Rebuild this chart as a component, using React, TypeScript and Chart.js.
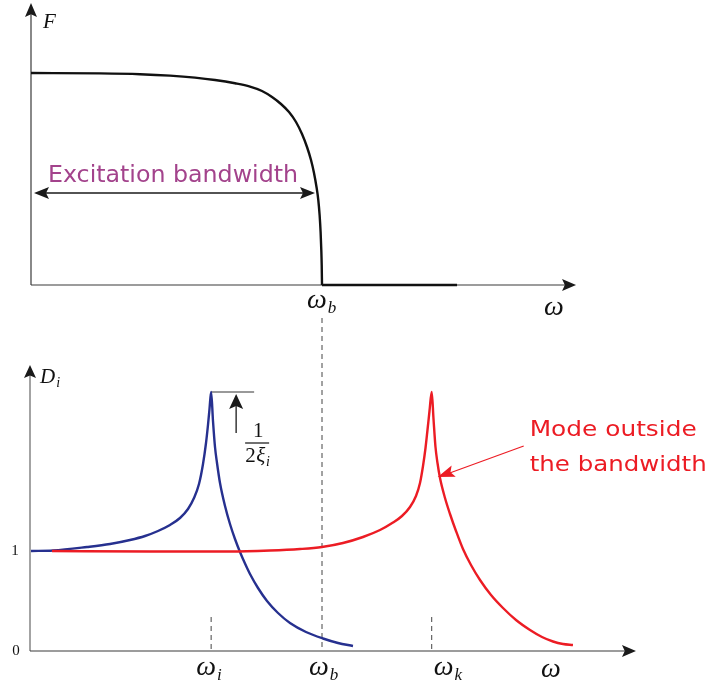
import React, { useEffect, useRef } from "react";
import { Chart, registerables } from "chart.js";
Chart.register(...registerables);

// ---- data (ω normalised so that ω_b = 1) ----
const OMEGA_B = 1.0;
const OMEGA_I = 0.619;
const OMEGA_K = 1.377;
const PEAK = 2.59;

const forceOmega = [0, 0.2371, 0.3746, 0.4777, 0.5636, 0.6323, 0.701, 0.7526, 0.7938, 0.8282, 0.8591, 0.8866, 0.9107, 0.9313, 0.9485, 0.9622, 0.9725, 0.9811, 0.9873, 0.9918, 0.9952, 0.9976, 0.999, 1.0];
const forceValues = [1.0, 0.9981, 0.9943, 0.9877, 0.9783, 0.967, 0.9514, 0.9358, 0.9151, 0.8868, 0.8538, 0.816, 0.7689, 0.7123, 0.6509, 0.5896, 0.5283, 0.4623, 0.4009, 0.3302, 0.25, 0.1651, 0.0943, 0.0];
const tailOmega = [1.0, 1.464];
const tailValues = [0, 0];

const blueOmega = [0, 0.0756, 0.1924, 0.2715, 0.3402, 0.3918, 0.4364, 0.4777, 0.512, 0.5395, 0.5601, 0.5773, 0.5911, 0.6014, 0.6082, 0.6134, 0.619, 0.6254, 0.6323, 0.6392, 0.6495, 0.6667, 0.6838, 0.701, 0.7182, 0.7354, 0.7526, 0.7801, 0.811, 0.8488, 0.89, 0.945, 1.0034, 1.055, 1.1065];
const blueValues = [1.0, 1.005, 1.04, 1.07, 1.11, 1.15, 1.2, 1.26, 1.33, 1.42, 1.53, 1.67, 1.87, 2.08, 2.26, 2.42, 2.59, 2.3, 2.04, 1.88, 1.68, 1.45, 1.27, 1.12, 0.99, 0.875, 0.77, 0.63, 0.5, 0.38, 0.28, 0.19, 0.125, 0.08, 0.05];

const redOmega = [0.0722, 0.4089, 0.6838, 0.8213, 0.9244, 1.0, 1.0722, 1.1409, 1.1993, 1.244, 1.2749, 1.3024, 1.323, 1.3368, 1.3471, 1.3557, 1.3625, 1.3694, 1.377, 1.3832, 1.39, 1.3969, 1.4055, 1.4227, 1.4399, 1.4605, 1.4845, 1.512, 1.543, 1.5808, 1.622, 1.6667, 1.7148, 1.756, 1.7938, 1.8282, 1.8625];
const redValues = [1.0, 0.995, 0.995, 1.005, 1.02, 1.04, 1.08, 1.14, 1.21, 1.285, 1.35, 1.44, 1.55, 1.68, 1.85, 2.03, 2.21, 2.4, 2.59, 2.32, 2.04, 1.88, 1.73, 1.53, 1.37, 1.2, 1.02, 0.86, 0.71, 0.56, 0.43, 0.31, 0.21, 0.14, 0.095, 0.07, 0.06];

const F_AXIS_TOP = 1.33;
const W_AXIS_END_TOP = 1.873;
const D_AXIS_TOP = 2.86;
const W_AXIS_END_BOTTOM = 2.079;

const BLUE = "#26308f";
const RED = "#ec1c24";
const PURPLE = "#a3438c";
const AXIS = "#3a3a3a";

const W = 714;
const H = 688;

const pts = (xs: number[], ys: number[]) => xs.map((x, i) => ({ x, y: ys[i] }));

function arrowHead(ctx: CanvasRenderingContext2D, tx: number, ty: number, angle: number, len: number, half: number, color: string) {
  const c = Math.cos(angle), s = Math.sin(angle);
  const bx = tx - c * len, by = ty - s * len;
  const ix = tx - c * len * 0.8, iy = ty - s * len * 0.8;
  ctx.save();
  ctx.fillStyle = color;
  ctx.beginPath();
  ctx.moveTo(tx, ty);
  ctx.lineTo(bx - s * half, by + c * half);
  ctx.lineTo(ix, iy);
  ctx.lineTo(bx + s * half, by - c * half);
  ctx.closePath();
  ctx.fill();
  ctx.restore();
}

function line(ctx: CanvasRenderingContext2D, x1: number, y1: number, x2: number, y2: number, color: string, width = 1, dash: number[] = []) {
  ctx.save();
  ctx.strokeStyle = color;
  ctx.lineWidth = width;
  ctx.setLineDash(dash);
  ctx.beginPath();
  ctx.moveTo(x1, y1);
  ctx.lineTo(x2, y2);
  ctx.stroke();
  ctx.restore();
}

function mathLabel(ctx: CanvasRenderingContext2D, main: string, sub: string, x: number, y: number, size: number, subSize: number) {
  ctx.save();
  ctx.fillStyle = "#111";
  ctx.textBaseline = "alphabetic";
  ctx.textAlign = "left";
  ctx.font = `italic ${size}px "Liberation Serif", "DejaVu Serif", serif`;
  ctx.fillText(main, x, y);
  const w = ctx.measureText(main).width;
  if (sub) {
    ctx.font = `italic ${subSize}px "Liberation Serif", "DejaVu Serif", serif`;
    ctx.fillText(sub, x + w + 1, y + size * 0.18);
  }
  ctx.restore();
}

function fitText(ctx: CanvasRenderingContext2D, text: string, x: number, y: number, width: number, size: number, color: string) {
  ctx.save();
  ctx.font = `${size}px "Comic Sans MS", "DejaVu Sans", sans-serif`;
  ctx.fillStyle = color;
  ctx.textBaseline = "alphabetic";
  ctx.textAlign = "left";
  const m = ctx.measureText(text).width;
  ctx.translate(x, y);
  ctx.scale(width / m, 1);
  ctx.fillText(text, 0, 0);
  ctx.restore();
}

const diagramPlugin = {
  id: "diagram",
  beforeDatasetsDraw(chart: any) {
    const ctx: CanvasRenderingContext2D = chart.ctx;
    const sx = chart.scales.x, sf = chart.scales.yF, sd = chart.scales.yD;
    const ox = sx.getPixelForValue(0);
    const oyF = sf.getPixelForValue(0);
    const oyD = sd.getPixelForValue(0);

    // top axes
    const topF = sf.getPixelForValue(F_AXIS_TOP);
    line(ctx, ox, oyF, ox, topF + 8, AXIS, 1.2);
    arrowHead(ctx, ox, topF, -Math.PI / 2, 14, 6, "#1a1a1a");
    const endTop = sx.getPixelForValue(W_AXIS_END_TOP);
    line(ctx, ox, oyF, endTop - 8, oyF, AXIS, 1.2);
    arrowHead(ctx, endTop, oyF, 0, 14, 6, "#1a1a1a");

    // bottom axes
    const oxD = ox - 1;
    const topD = sd.getPixelForValue(D_AXIS_TOP);
    line(ctx, oxD, oyD, oxD, topD + 8, "#666", 1.2);
    arrowHead(ctx, oxD, topD, -Math.PI / 2, 13, 6, "#1a1a1a");
    const endBot = sx.getPixelForValue(W_AXIS_END_BOTTOM);
    line(ctx, oxD, oyD, endBot - 8, oyD, AXIS, 1.2);
    arrowHead(ctx, endBot, oyD, 0, 14, 6, "#1a1a1a");

    // dashed lines
    const xb = sx.getPixelForValue(OMEGA_B);
    line(ctx, xb, oyF + 33, xb, oyD, "#444", 1, [5, 4]);
    const xi = sx.getPixelForValue(OMEGA_I);
    const xk = sx.getPixelForValue(OMEGA_K);
    line(ctx, xi, oyD - 34, xi, oyD, "#444", 1, [5, 4]);
    line(ctx, xk, oyD - 34, xk, oyD, "#444", 1, [5, 4]);

    // peak reference line
    const yp = sd.getPixelForValue(PEAK);
    line(ctx, xi, yp, xi + 43, yp, "#777", 1.5);
  },
  afterDatasetsDraw(chart: any) {
    const ctx: CanvasRenderingContext2D = chart.ctx;
    const sx = chart.scales.x, sf = chart.scales.yF, sd = chart.scales.yD;
    const ox = sx.getPixelForValue(0);
    const oyF = sf.getPixelForValue(0);
    const oyD = sd.getPixelForValue(0);
    const xb = sx.getPixelForValue(OMEGA_B);
    const xi = sx.getPixelForValue(OMEGA_I);
    const xk = sx.getPixelForValue(OMEGA_K);

    // top labels
    mathLabel(ctx, "F", "", ox + 12, sf.getPixelForValue(F_AXIS_TOP) + 25, 21, 14);
    mathLabel(ctx, "ω", "b", xb - 15, oyF + 23, 28, 17);
    mathLabel(ctx, "ω", "", sx.getPixelForValue(W_AXIS_END_TOP) - 32, oyF + 30, 28, 17);

    // excitation bandwidth
    const yArr = sf.getPixelForValue(0.434);
    line(ctx, ox + 12, yArr, xb - 18, yArr, "#1a1a1a", 1.3);
    arrowHead(ctx, ox + 3, yArr, Math.PI, 15, 6, "#1a1a1a");
    arrowHead(ctx, xb - 7, yArr, 0, 15, 6, "#1a1a1a");
    fitText(ctx, "Excitation bandwidth", ox + 17, yArr - 11, 250, 23, PURPLE);

    // bottom labels
    mathLabel(ctx, "D", "i", ox + 9, sd.getPixelForValue(D_AXIS_TOP) + 18, 21, 14);
    ctx.save();
    ctx.fillStyle = "#111";
    ctx.font = `15px "Liberation Serif", "DejaVu Serif", serif`;
    ctx.textAlign = "center";
    ctx.textBaseline = "middle";
    ctx.fillText("1", ox - 16, sd.getPixelForValue(1));
    ctx.fillText("0", ox - 15, oyD);
    ctx.restore();
    mathLabel(ctx, "ω", "i", xi - 15, oyD + 24, 28, 17);
    mathLabel(ctx, "ω", "b", xb - 13, oyD + 24, 28, 17);
    mathLabel(ctx, "ω", "k", xk + 2, oyD + 24, 28, 17);
    mathLabel(ctx, "ω", "", sx.getPixelForValue(W_AXIS_END_BOTTOM) - 95, oyD + 26, 28, 17);

    // 1 / (2 xi_i)
    const yp = sd.getPixelForValue(PEAK);
    const xa = xi + 25;
    line(ctx, xa, yp + 41, xa, yp + 10, "#1a1a1a", 1.3);
    arrowHead(ctx, xa, yp + 2, -Math.PI / 2, 15, 7, "#1a1a1a");
    ctx.save();
    ctx.fillStyle = "#111";
    ctx.font = `21px "Liberation Serif", "DejaVu Serif", serif`;
    ctx.textAlign = "center";
    ctx.textBaseline = "alphabetic";
    ctx.fillText("1", xi + 47, yp + 45);
    ctx.restore();
    line(ctx, xi + 34, yp + 51, xi + 58, yp + 51, "#111", 1.2);
    ctx.save();
    ctx.fillStyle = "#111";
    ctx.font = `21px "Liberation Serif", "DejaVu Serif", serif`;
    ctx.textAlign = "left";
    ctx.fillText("2", xi + 34, yp + 70);
    ctx.restore();
    mathLabel(ctx, "ξ", "i", xi + 45, yp + 70, 21, 14);

    // red annotation
    const yt = sd.getPixelForValue(1.73);
    line(ctx, xk + 92, yt - 32, xk + 18, yt - 5, RED, 1.2);
    arrowHead(ctx, xk + 6, yt - 1, Math.atan2(27, -74), 17, 6, RED);
    fitText(ctx, "Mode outside", xk + 98, yt - 42, 167, 22, RED);
    fitText(ctx, "the bandwidth", xk + 98, yt - 7, 177, 22, RED);
  },
};

export default function App() {
  const ref = useRef<HTMLCanvasElement>(null);
  useEffect(() => {
    const canvas = ref.current!;
    const xPerUnit = 291, x0 = 31;
    const xMin = -x0 / xPerUnit;
    const xMax = xMin + W / xPerUnit;
    const fPer = 212, f0 = 285;
    const fMax = f0 / fPer;
    const fMin = fMax - H / fPer;
    const dPer = 100, d0 = 651;
    const dMax = d0 / dPer;
    const dMin = dMax - H / dPer;

    const chart = new Chart(canvas, {
      type: "line",
      data: {
        datasets: [
          {
            data: pts(redOmega, redValues),
            yAxisID: "yD",
            borderColor: RED,
            borderWidth: 2.4,
            cubicInterpolationMode: "monotone",
            order: 0,
          },
          {
            data: pts(blueOmega, blueValues),
            yAxisID: "yD",
            borderColor: BLUE,
            borderWidth: 2.4,
            cubicInterpolationMode: "monotone",
            order: 1,
          },
          {
            data: pts(forceOmega, forceValues),
            yAxisID: "yF",
            borderColor: "#111",
            borderWidth: 2.4,
            cubicInterpolationMode: "monotone",
            order: 2,
          },
          {
            data: pts(tailOmega, tailValues),
            yAxisID: "yF",
            borderColor: "#111",
            borderWidth: 2.6,
            order: 3,
          },
        ],
      } as any,
      options: {
        responsive: false,
        maintainAspectRatio: false,
        animation: false,
        events: [],
        layout: { padding: 0 },
        elements: { point: { radius: 0 }, line: { fill: false } },
        plugins: { legend: { display: false }, tooltip: { enabled: false } },
        scales: {
          x: { type: "linear", min: xMin, max: xMax, display: false },
          yF: { type: "linear", min: fMin, max: fMax, display: false },
          yD: { type: "linear", min: dMin, max: dMax, display: false },
        },
      } as any,
      plugins: [diagramPlugin],
    });
    return () => chart.destroy();
  }, []);

  return (
    <div style={{ position: "fixed", left: 0, top: 0, width: W, height: H, background: "#fff" }}>
      <canvas ref={ref} width={W} height={H} style={{ display: "block", width: W, height: H }} />
    </div>
  );
}
